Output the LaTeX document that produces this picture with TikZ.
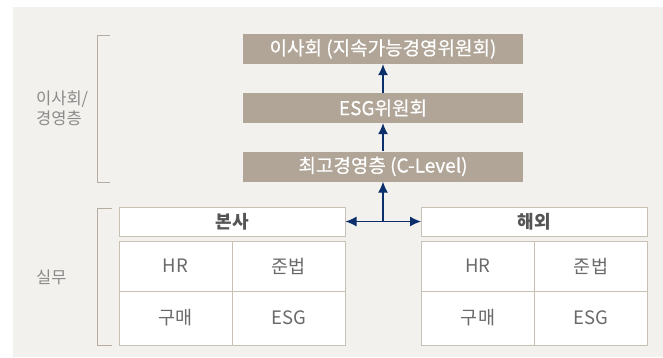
\documentclass[tikz,border=0pt]{standalone}
\usepackage{fontspec}
\newfontfamily\kr{Noto Sans CJK KR}
\newfontfamily\krmed{Noto Sans CJK KR}[FakeBold=0.5]
\usepackage{xcolor}
\usetikzlibrary{arrows.meta,positioning}
\definecolor{bgbeige}{HTML}{F3F1ED}
\definecolor{taupe}{HTML}{B0A597}
\definecolor{navyarrow}{HTML}{0B2F6B}
\definecolor{linetan}{HTML}{C9C0B4}
\definecolor{sidegray}{HTML}{8A8A8A}
\definecolor{headgray}{HTML}{555555}
\definecolor{cellgray}{HTML}{6A6A6A}
\tikzset{
  govbox/.style={fill=taupe,text=white,minimum width=280pt,minimum height=30pt,
    inner sep=0pt,font=\krmed\fontsize{19}{21}\selectfont},
  headbox/.style={draw=linetan,fill=white,line width=1pt,minimum width=226pt,
    minimum height=29pt,inner sep=0pt,text=headgray,font=\kr\bfseries\fontsize{18}{20}\selectfont},
  cell/.style={draw=linetan,fill=white,line width=1pt,minimum width=113pt,
    inner sep=0pt,text=cellgray,font=\kr\fontsize{18.5}{20}\selectfont},
  sidelabel/.style={text=sidegray,align=left,anchor=west,inner sep=0pt,
    font=\kr\fontsize{16.5}{20}\selectfont},
  bracket/.style={draw=linetan!90!black,line width=1pt},
  flow/.style={-{Latex[length=11pt,width=10pt]},navyarrow,line width=1.2pt}
}
\begin{document}
\begin{tikzpicture}[x=1pt,y=-1pt]
  \useasboundingbox (0,0) rectangle (663,357);
  % Background
  \fill[bgbeige] (13,7) rectangle (663,357);
  % Governance boxes
  \node[govbox] (board) at (383,49) {이사회 (지속가능경영위원회)};
  \node[govbox] (esgcom) at (383,108) {ESG위원회};
  \node[govbox] (clevel) at (383,166.5) {최고경영층 (C-Level)};
  \draw[flow] (esgcom.north) -- (board.south);
  \draw[flow] (clevel.north) -- (esgcom.south);
  % Head office
  \node[headbox] (hq) at (232,221.5) {본사};
  \node[cell,minimum height=50pt] (hqhr) at (175.5,266) {HR};
  \node[cell,minimum height=50pt] (hqlaw) at (288.5,266) {준법};
  \node[cell,minimum height=54pt] (hqbuy) at (175.5,318) {구매};
  \node[cell,minimum height=54pt] (hqesg) at (288.5,318) {ESG};
  % Overseas
  \node[headbox] (os) at (534.5,221.5) {해외};
  \node[cell,minimum height=50pt] (oshr) at (478,266) {HR};
  \node[cell,minimum height=50pt] (oslaw) at (591,266) {준법};
  \node[cell,minimum height=54pt] (osbuy) at (478,318) {구매};
  \node[cell,minimum height=54pt] (osesg) at (591,318) {ESG};
  % Links to C-Level
  \coordinate (junction) at (383,221.5);
  \draw[flow] (junction) -- (clevel.south);
  \draw[flow] (junction) -- (hq.east);
  \draw[flow] (junction) -- (os.west);
  % Side brackets
  \draw[bracket] (110,35) -- (97,35) -- (97,182) -- (110,182);
  \draw[bracket] (112,208) -- (97,208) -- (97,345) -- (112,345);
  \node[sidelabel] (toplabel) at (36,108) {이사회/\\경영층};
  \node[sidelabel] (worklabel) at (36,277) {실무};
\end{tikzpicture}
\end{document}
